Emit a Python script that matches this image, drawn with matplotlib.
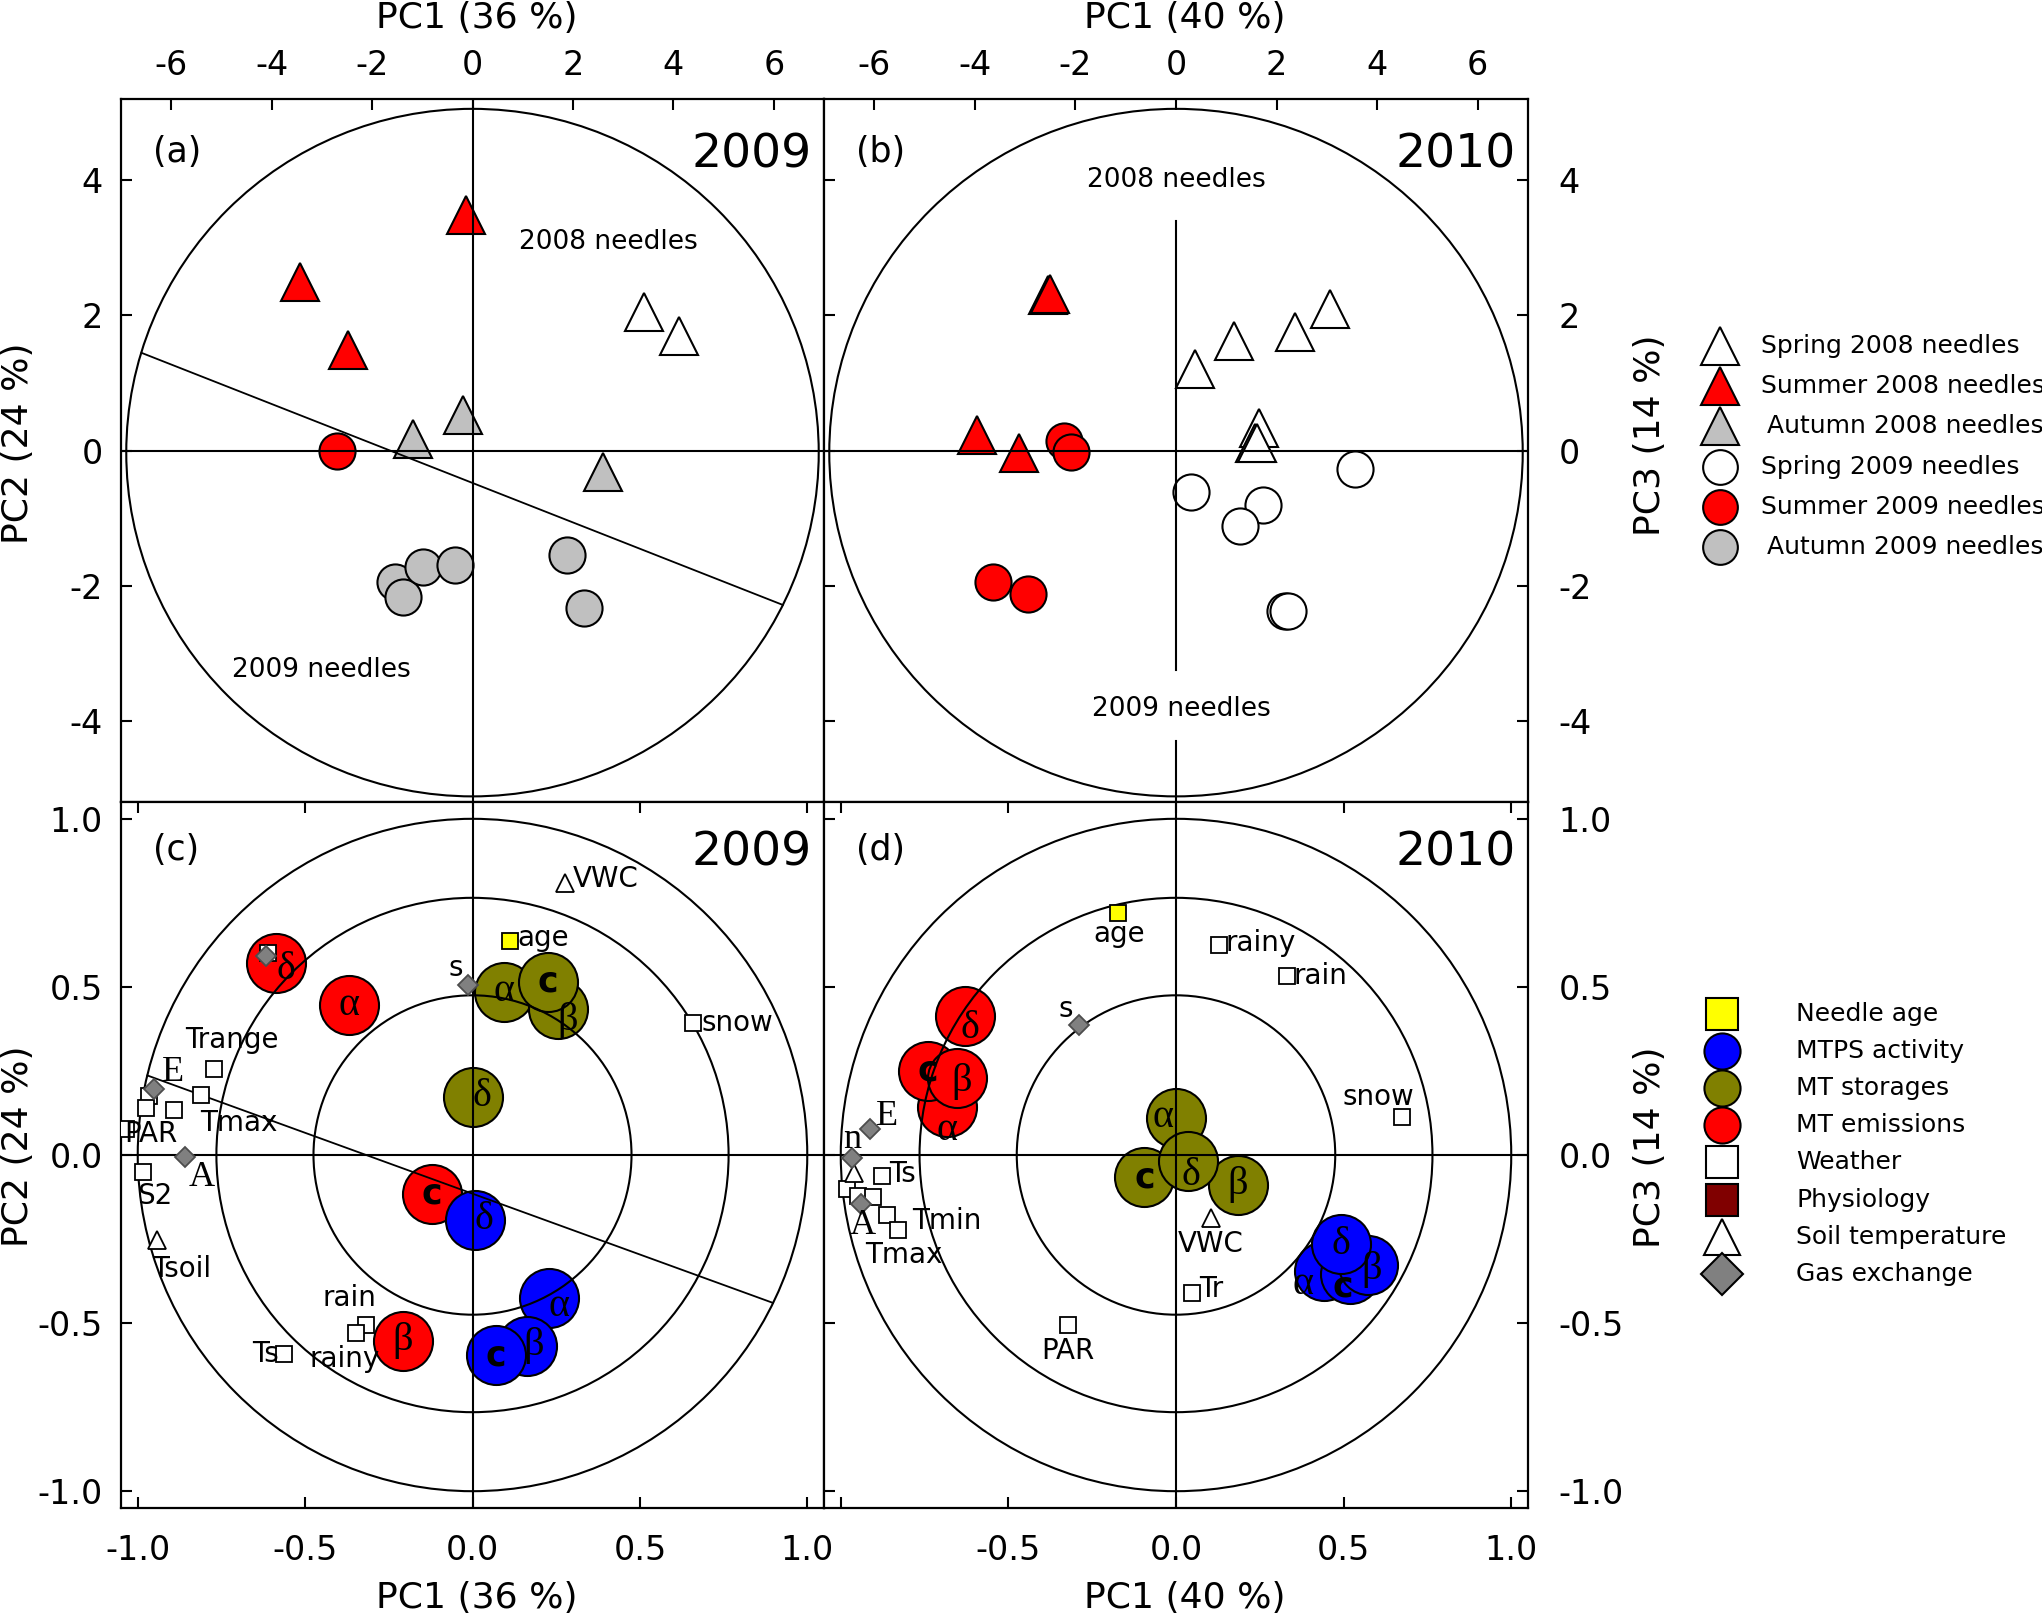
import numpy as np
import matplotlib
matplotlib.use("Agg")
import matplotlib.pyplot as plt
from matplotlib.patches import Ellipse, Circle

plt.rcParams['font.family'] = ['DejaVu Sans']
plt.rcParams['axes.unicode_minus'] = False

# ---------------- data: scores (panels a, b) ----------------
a_spring08_x = [3.41, 4.12]
a_spring08_y = [2.05, 1.69]
a_summer08_x = [-0.13, -3.43, -2.47]
a_summer08_y = [3.48, 2.49, 1.48]
a_autumn08_x = [-0.19, -1.18, 2.59]
a_autumn08_y = [0.52, 0.17, -0.32]
a_summer09_x = [-2.70]
a_summer09_y = [0.00]
a_autumn09_x = [-1.55, -1.39, -0.99, -0.34, 1.88, 2.22]
a_autumn09_y = [-1.95, -2.16, -1.72, -1.69, -1.55, -2.33]

b_spring08_x = [0.37, 1.16, 2.36, 3.07, 1.65, 1.57, 1.62]
b_spring08_y = [1.20, 1.62, 1.75, 2.10, 0.33, 0.11, 0.11]
b_summer08_x = [-2.55, -2.50, -3.96, -3.13]
b_summer08_y = [2.30, 2.32, 0.23, -0.04]
b_spring09_x = [0.30, 1.74, 1.28, 3.56, 2.16, 2.22]
b_spring09_y = [-0.61, -0.81, -1.12, -0.27, -2.38, -2.37]
b_summer09_x = [-2.22, -2.08, -3.63, -2.94]
b_summer09_y = [0.14, -0.02, -1.94, -2.13]

# separating lines (slope, intercept in data units)
a_sep = (-0.292, -0.48)
c_sep = (-0.362, -0.115)

# ---------------- data: loadings (panels c, d) ----------------
c_emis_names = ['δ', 'α', 'c', 'β']
c_emis_x = [-0.586, -0.368, -0.121, -0.208]
c_emis_y = [0.571, 0.446, -0.115, -0.552]
c_mtps_names = ['δ', 'α', 'β', 'c']
c_mtps_x = [0.008, 0.229, 0.164, 0.069]
c_mtps_y = [-0.193, -0.424, -0.568, -0.596]
c_stor_names = ['α', 'β', 'c', 'δ']
c_stor_x = [0.094, 0.254, 0.225, 0.000]
c_stor_y = [0.485, 0.434, 0.516, 0.173]

c_weather_names = ['Trange', 'Tmax', '', '', '', 'PAR', 'S2', 'snow', 'rain', 'rainy', 'Ts', '']
c_weather_x = [-0.773, -0.810, -0.967, -0.974, -0.892, -1.036, -0.984, 0.660, -0.319, -0.347, -0.5625, -0.612]
c_weather_y = [0.255, 0.178, 0.176, 0.139, 0.133, 0.077, -0.051, 0.392, -0.505, -0.529, -0.591, 0.600]
c_gas_names = ['s', 'E', 'A', '']
c_gas_x = [-0.014, -0.952, -0.860, -0.617]
c_gas_y = [0.505, 0.196, -0.006, 0.591]
c_soil_names = ['VWC', 'Tsoil']
c_soil_x = [0.275, -0.942]
c_soil_y = [0.810, -0.254]
c_age_names = ['age']
c_age_x = [0.111]
c_age_y = [0.636]

d_emis_names = ['α', 'c', 'β', 'δ']
d_emis_x = [-0.684, -0.739, -0.653, -0.628]
d_emis_y = [0.142, 0.251, 0.228, 0.412]
d_mtps_names = ['α', 'c', 'β', 'δ']
d_mtps_x = [0.440, 0.519, 0.573, 0.491]
d_mtps_y = [-0.346, -0.355, -0.326, -0.266]
d_stor_names = ['α', 'c', 'β', 'δ']
d_stor_x = [0.000, -0.094, 0.185, 0.037]
d_stor_y = [0.111, -0.066, -0.089, -0.019]

d_weather_names = ['rainy', 'rain', 'snow', 'Ts', '', '', '', 'Tmax', 'Tmin', 'Tr', 'PAR']
d_weather_x = [0.127, 0.331, 0.673, -0.876, -0.980, -0.950, -0.904, -0.861, -0.828, 0.048, -0.322]
d_weather_y = [0.626, 0.532, 0.114, -0.063, -0.102, -0.122, -0.125, -0.177, -0.224, -0.409, -0.505]
d_gas_names = ['s', 'E', 'n', 'A']
d_gas_x = [-0.290, -0.912, -0.967, -0.940]
d_gas_y = [0.387, 0.077, -0.008, -0.147]
d_soil_names = ['', 'VWC']
d_soil_x = [-0.960, 0.104]
d_soil_y = [-0.053, -0.186]
d_age_names = ['age']
d_age_x = [-0.173]
d_age_y = [0.719]

# ---------------- label placement (offsets, data units) ----------------
c_emis_lab = [(0.03, -0.02), (0, 0), (0, 0), (0, 0)]
c_mtps_lab = [(0.026, 0), (0.028, -0.027), (0.02, 0), (0, 0)]
c_stor_lab = [(0, 0), (0.03, -0.034), (0, 0), (0.028, 0)]
d_emis_lab = [(0, -0.07), (0, 0), (0.013, -0.008), (0.013, -0.036)]
d_mtps_lab = [(-0.06, -0.038), (-0.02, -0.035), (0.01, -0.015), (0, 0)]
d_stor_lab = [(-0.039, 0), (0, 0), (0, 0), (0.007, -0.042)]

c_weather_lab = [(0.055, 0.087, 'center'), (0.112, -0.082, 'center'), None, None, None,
                 (0.074, -0.015, 'center'), (0.034, -0.071, 'center'), (0.025, 0.0, 'left'),
                 (-0.049, 0.081, 'center'), (-0.035, -0.078, 'center'), (-0.015, 0.0, 'right'), None]
c_gas_lab = [(-0.035, 0.05, 'center'), (0.058, 0.049, 'center'), (0.05, -0.062, 'center'), None]
c_soil_lab = [(0.025, 0.01, 'left'), (0.074, -0.085, 'center')]
c_age_lab = [(0.022, 0.008, 'left')]
d_weather_lab = [(0.02, 0.005, 'left'), (0.02, 0.0, 'left'), (-0.069, 0.059, 'center'),
                 (0.02, 0.005, 'left'), None, None, None, (0.05, -0.119, 'center'),
                 (0.04, 0.027, 'left'), (0.02, 0.01, 'left'), (0.0, -0.078, 'center')]
d_gas_lab = [(-0.039, 0.047, 'center'), (0.051, 0.039, 'center'), (0.0, 0.055, 'center'),
             (0.005, -0.063, 'center')]
d_soil_lab = [None, (0.0, -0.08, 'center')]
d_age_lab = [(0.003, -0.062, 'center')]

# legend entries
legend1_labels = ['Spring 2008 needles', 'Summer 2008 needles', 'Autumn 2008 needles',
                  'Spring 2009 needles', 'Summer 2009 needles', 'Autumn 2009 needles']
legend1_markers = ['^', '^', '^', 'o', 'o', 'o']
legend1_colors = ['white', 'red', '#c0c0c0', 'white', 'red', '#c0c0c0']
legend2_labels = ['Needle age', 'MTPS activity', 'MT storages', 'MT emissions', 'Weather',
                  'Physiology', 'Soil temperature', 'Gas exchange']
legend2_markers = ['s', 'o', 'o', 'o', 's', 's', '^', 'D']
legend2_colors = ['yellow', 'blue', '#808000', 'red', 'white', '#800000', 'white', '#808080']

# ---------------- figure ----------------
W, H = 2042, 1621
fig = plt.figure(figsize=(W / 100, H / 100), dpi=100)

def px_ax(x0, y0, x1, y1):
    return fig.add_axes([x0 / W, 1 - y1 / H, (x1 - x0) / W, (y1 - y0) / H])

ax_a = px_ax(121, 99, 824, 802)
ax_b = px_ax(824, 99, 1528, 802)
ax_c = px_ax(121, 802, 824, 1508)
ax_d = px_ax(824, 802, 1528, 1508)

TICK_FS = 24
SERIF = ['Liberation Serif', 'DejaVu Serif']

for ax in (ax_a, ax_b, ax_c, ax_d):
    for s in ax.spines.values():
        s.set_linewidth(1.6)
    ax.tick_params(direction='in', length=8, width=1.5, labelsize=TICK_FS)

# ----- panels a, b -----
for ax in (ax_a, ax_b):
    ax.set_xlim(-7, 7)
    ax.set_ylim(-5.2, 5.2)
    ax.set_xticks([-6, -4, -2, 0, 2, 4, 6])
    ax.set_yticks([-4, -2, 0, 2, 4])
    ax.add_patch(Ellipse((0.5, 0.497), 0.985, 0.978, transform=ax.transAxes,
                         fill=False, lw=1.5, ec='black', zorder=4))
    ax.axhline(0, color='black', lw=1.5, zorder=4)

ax_a.tick_params(top=True, bottom=False, left=True, right=False,
                 labeltop=True, labelbottom=False, labelleft=True, labelright=False)
ax_a.tick_params(axis='x', pad=12)
ax_a.tick_params(axis='y', pad=13)
ax_b.tick_params(top=True, bottom=False, left=True, right=True,
                 labeltop=True, labelbottom=False, labelleft=False, labelright=True)
ax_b.tick_params(axis='x', pad=12)
ax_b.tick_params(axis='y', pad=22)

ax_a.axvline(0, color='black', lw=1.5, zorder=4)
b_vseg = [(-5.2, -4.3), (-3.25, 3.4)]
for y0, y1 in b_vseg:
    ax_b.plot([0, 0], [y0, y1], color='black', lw=1.5, zorder=4)

def clipped_line(ax, slope, icpt, inside):
    xs = np.linspace(ax.get_xlim()[0], ax.get_xlim()[1], 2000)
    ys = slope * xs + icpt
    m = inside(xs, ys)
    ax.plot(xs[m], ys[m], color='black', lw=1.3, zorder=4)

def inside_ab(xs, ys):
    fx = (xs + 7) / 14.0
    fy = (ys + 5.2) / 10.4
    return ((fx - 0.5) / 0.4925) ** 2 + ((fy - 0.497) / 0.489) ** 2 <= 1

clipped_line(ax_a, a_sep[0], a_sep[1], inside_ab)

mk = dict(ls='none', mec='black', mew=1.5, zorder=3)
TRI, CIR = 28, 26
ax_a.plot(a_spring08_x, a_spring08_y, '^', ms=TRI, mfc='white', **mk)
ax_a.plot(a_summer08_x, a_summer08_y, '^', ms=TRI, mfc='red', **mk)
ax_a.plot(a_autumn08_x, a_autumn08_y, '^', ms=TRI, mfc='#c0c0c0', **mk)
ax_a.plot(a_summer09_x, a_summer09_y, 'o', ms=CIR, mfc='red', **mk)
ax_a.plot(a_autumn09_x, a_autumn09_y, 'o', ms=CIR, mfc='#c0c0c0', **mk)

ax_b.plot(b_spring08_x, b_spring08_y, '^', ms=TRI, mfc='white', **mk)
ax_b.plot(b_summer08_x, b_summer08_y, '^', ms=TRI, mfc='red', **mk)
ax_b.plot(b_spring09_x, b_spring09_y, 'o', ms=CIR, mfc='white', **mk)
ax_b.plot(b_summer09_x, b_summer09_y, 'o', ms=CIR, mfc='red', **mk)

ax_a.text(2.7, 3.08, '2008 needles', fontsize=19, ha='center', va='center', zorder=5)
ax_a.text(-3.0, -3.24, '2009 needles', fontsize=19, ha='center', va='center', zorder=5)
ax_b.text(0.0, 4.0, '2008 needles', fontsize=19, ha='center', va='center', zorder=5)
ax_b.text(0.1, -3.82, '2009 needles', fontsize=19, ha='center', va='center', zorder=5)

# ----- panels c, d -----
for ax in (ax_c, ax_d):
    ax.set_xlim(-1.05, 1.05)
    ax.set_ylim(-1.05, 1.05)
    ax.set_xticks([-1.0, -0.5, 0.0, 0.5, 1.0])
    ax.set_yticks([-1.0, -0.5, 0.0, 0.5, 1.0])
    ax.yaxis.set_major_formatter(matplotlib.ticker.FormatStrFormatter('%.1f'))
    ax.xaxis.set_major_formatter(matplotlib.ticker.FormatStrFormatter('%.1f'))
    for r in (1.0, 0.765, 0.475):
        ax.add_patch(Circle((0, 0), r, fill=False, lw=1.5, ec='black', zorder=4))
    ax.axhline(0, color='black', lw=1.5, zorder=4)
    ax.axvline(0, color='black', lw=1.5, zorder=4)

ax_c.tick_params(top=True, bottom=True, left=True, right=False,
                 labeltop=False, labelbottom=True, labelleft=True, labelright=False)
ax_c.tick_params(axis='x', pad=19)
ax_c.tick_params(axis='y', pad=13)
ax_d.tick_params(top=True, bottom=True, left=True, right=True,
                 labeltop=False, labelbottom=True, labelleft=False, labelright=True)
ax_d.tick_params(axis='x', pad=19)
ax_d.tick_params(axis='y', pad=22)
ax_d.set_xticklabels(['', '-0.5', '0.0', '0.5', '1.0'])

clipped_line(ax_c, c_sep[0], c_sep[1], lambda xs, ys: xs ** 2 + ys ** 2 <= 1.0)

BIG = 42.5

def big_group(ax, xs, ys, names, offs, color):
    ax.plot(xs, ys, 'o', ms=BIG, mfc=color, **mk)
    for x, y, n, (dx, dy) in zip(xs, ys, names, offs):
        if n == 'c':
            ax.text(x + dx, y + dy, n, fontsize=25, fontweight='bold', ha='center',
                    va='center', zorder=6)
        else:
            ax.text(x + dx, y + dy, n, fontsize=29, family=SERIF, ha='center',
                    va='center', zorder=6)

def small_group(ax, xs, ys, names, labs, marker, ms, fc, ec='black', mew=1.3):
    ax.plot(xs, ys, marker, ms=ms, mfc=fc, mec=ec, mew=mew, ls='none', zorder=5)
    for x, y, n, lab in zip(xs, ys, names, labs):
        if not n or lab is None:
            continue
        dx, dy, ha = lab
        if n in ('E', 'A', 'n'):
            ax.text(x + dx, y + dy, n, fontsize=26, family=SERIF, ha=ha, va='center', zorder=6)
        else:
            ax.text(x + dx, y + dy, n, fontsize=20, ha=ha, va='center', zorder=6)

big_group(ax_c, c_emis_x, c_emis_y, c_emis_names, c_emis_lab, 'red')
big_group(ax_c, c_mtps_x, c_mtps_y, c_mtps_names, c_mtps_lab, 'blue')
big_group(ax_c, c_stor_x, c_stor_y, c_stor_names, c_stor_lab, '#808000')
small_group(ax_c, c_weather_x, c_weather_y, c_weather_names, c_weather_lab, 's', 11.5, 'white')
small_group(ax_c, c_soil_x, c_soil_y, c_soil_names, c_soil_lab, '^', 12.5, 'white')
small_group(ax_c, c_gas_x, c_gas_y, c_gas_names, c_gas_lab, 'D', 10, '#808080', ec='#4d4d4d')
small_group(ax_c, c_age_x, c_age_y, c_age_names, c_age_lab, 's', 11, 'yellow')

big_group(ax_d, d_emis_x, d_emis_y, d_emis_names, d_emis_lab, 'red')
big_group(ax_d, d_mtps_x, d_mtps_y, d_mtps_names, d_mtps_lab, 'blue')
big_group(ax_d, d_stor_x, d_stor_y, d_stor_names, d_stor_lab, '#808000')
small_group(ax_d, d_weather_x, d_weather_y, d_weather_names, d_weather_lab, 's', 11.5, 'white')
small_group(ax_d, d_soil_x, d_soil_y, d_soil_names, d_soil_lab, '^', 12.5, 'white')
small_group(ax_d, d_gas_x, d_gas_y, d_gas_names, d_gas_lab, 'D', 10, '#808080', ec='#4d4d4d')
small_group(ax_d, d_age_x, d_age_y, d_age_names, d_age_lab, 's', 11, 'yellow')

# panel letters and years
for ax, letter, year, ly in ((ax_a, '(a)', '2009', 0.925), (ax_b, '(b)', '2010', 0.925),
                             (ax_c, '(c)', '2009', 0.932), (ax_d, '(d)', '2010', 0.932)):
    ax.text(0.046, ly, letter, transform=ax.transAxes, fontsize=25, ha='left', va='center', zorder=6)
    ax.text(0.982, ly - 0.004, year, transform=ax.transAxes, fontsize=34, ha='right', va='center', zorder=6)

# axis labels
LAB_FS = 26
fig.text(477 / W, 1 - 18 / H, 'PC1 (36 %)', fontsize=LAB_FS, ha='center', va='center')
fig.text(1185 / W, 1 - 18 / H, 'PC1 (40 %)', fontsize=LAB_FS, ha='center', va='center')
fig.text(477 / W, 1 - 1598 / H, 'PC1 (36 %)', fontsize=LAB_FS, ha='center', va='center')
fig.text(1185 / W, 1 - 1598 / H, 'PC1 (40 %)', fontsize=LAB_FS, ha='center', va='center')
fig.text(18 / W, 1 - 443 / H, 'PC2 (24 %)', fontsize=LAB_FS, ha='center', va='center', rotation=90)
fig.text(18 / W, 1 - 1146 / H, 'PC2 (24 %)', fontsize=LAB_FS, ha='center', va='center', rotation=90)
fig.text(1650 / W, 1 - 435 / H, 'PC3 (14 %)', fontsize=LAB_FS, ha='center', va='center', rotation=90)
fig.text(1650 / W, 1 - 1147 / H, 'PC3 (14 %)', fontsize=LAB_FS, ha='center', va='center', rotation=90)

# legends drawn in figure coordinates
lax = fig.add_axes([0, 0, 1, 1])
lax.set_xlim(0, W)
lax.set_ylim(H, 0)
lax.axis('off')

leg1_ms = {'^': 27, 'o': 25}
for i, (lab, m, c) in enumerate(zip(legend1_labels, legend1_markers, legend1_colors)):
    yy = 346 + 40.2 * i
    lax.plot([1720], [yy], m, ms=leg1_ms[m], mfc=c, mec='black', mew=1.5, ls='none')
    xt = 1767 if lab.startswith('Autumn') else 1761
    lax.text(xt, yy, lab, fontsize=18, ha='left', va='center')

leg2_ms = {'s': 23, 'o': 26, '^': 26, 'D': 21.5}
for i, (lab, m, c) in enumerate(zip(legend2_labels, legend2_markers, legend2_colors)):
    yy = 1014 + 37.1 * i
    lax.plot([1722], [yy], m, ms=leg2_ms[m], mfc=c, mec='black', mew=1.5, ls='none')
    lax.text(1796, yy, lab, fontsize=18, ha='left', va='center')

fig.savefig('out.png', dpi=100)
